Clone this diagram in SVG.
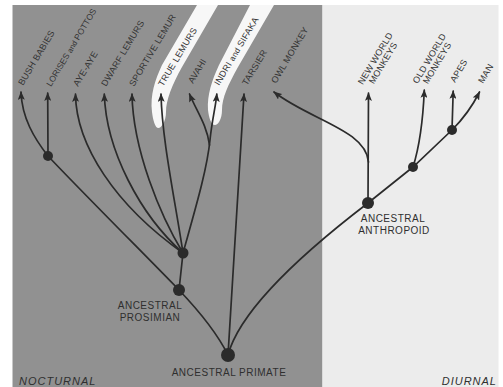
<svg xmlns="http://www.w3.org/2000/svg" width="503" height="387" viewBox="0 0 503 387">
<style>
.ln{fill:none;stroke:#2b2b2b;stroke-width:1.7;stroke-linecap:round}
.arr{marker-end:url(#ah)}
.nd{fill:#2b2b2b}
.lb{font-family:"Liberation Sans",Arial,sans-serif;font-size:9px;fill:#333;letter-spacing:0.2px}
.lc{font-size:8px}
.an{font-family:"Liberation Sans",Arial,sans-serif;font-size:10px;fill:#2f2f2f;letter-spacing:0.5px;text-anchor:middle}
.zone{font-family:"Liberation Sans",Arial,sans-serif;font-size:11px;font-style:italic;fill:#2f2f2f;letter-spacing:1px}
</style>
<defs>
<marker id="ah" viewBox="0 0 10 8" refX="9" refY="4" markerWidth="9" markerHeight="7" markerUnits="userSpaceOnUse" orient="auto">
<path d="M0,0 L10,4 L0,8 L2,4 Z" fill="#2b2b2b"/>
</marker>
</defs>
<rect x="0" y="0" width="503" height="387" fill="#ffffff"/>
<rect x="12.5" y="5" width="310" height="382" fill="#919191"/>
<rect x="322.5" y="5" width="176" height="382" fill="#ececec"/>
<path d="M152,112 C150,95 155,80 162,65 L197,5 L218,5 L182,67 C172,85 166,100 166,112 C166,122 161,128 158.5,128 C155,128 153,120 152,112 Z" fill="#f7f7f7"/>
<path d="M208,110 C207,95 212,80 219,65 L250,5 L274,5 L238,67 C228,85 222,98 222,110 C222,119 218,125 215,125 C211,125 209,118 208,110 Z" fill="#f7f7f7"/>
<g id="connectors">
<path class="ln arr" d="M48,156 C34,138 22,118 21,92"/>
<path class="ln arr" d="M48,156 L47.7,93"/>
<path class="ln" d="M48,156 C80,190 150,260 179,290 C200,312 218,335 228,355"/>
<path class="ln" d="M179,290 L183,253"/>
<path class="ln arr" d="M183,253 C115,205 76,145 75.5,94"/>
<path class="ln arr" d="M183,253 C140,215 106,150 104.3,94"/>
<path class="ln arr" d="M183,253 C160,215 133,150 132,94"/>
<path class="ln arr" d="M183,253 C175,200 162,140 161,94"/>
<path class="ln arr" d="M183,253 C195,210 207,170 210,140 C212,120 216,105 216.8,94"/>
<path class="ln arr" d="M209.5,145 C207,125 196,110 189.5,94"/>
<path class="ln arr" d="M228,355 L244,94"/>
<path class="ln" d="M228,355 C240,310 300,255 368,203"/>
<path class="ln" d="M368,203 L413,167 L452,130"/>
<path class="ln arr" d="M452,130 C462,120 472,107 479.5,92"/>
<path class="ln arr" d="M368,203 L368.5,93"/>
<path class="ln arr" d="M368.5,162 C366,130 310,120 274,92"/>
<path class="ln arr" d="M413,167 C420,145 423,120 424.3,90"/>
<path class="ln arr" d="M452,130 L453.2,91"/>
</g>
<g id="ancestral-primate"><circle class="nd" cx="228" cy="355" r="7"/><text class="an" x="229" y="375.5">ANCESTRAL PRIMATE</text></g>
<g id="ancestral-prosimian"><circle class="nd" cx="179" cy="290" r="6"/><text class="an" x="150" y="308.5">ANCESTRAL</text><text class="an" x="150" y="321">PROSIMIAN</text></g>
<g id="prosimian-split"><circle class="nd" cx="183" cy="253" r="5.5"/></g>
<g id="lorisoid-split"><circle class="nd" cx="48" cy="156" r="5"/></g>
<g id="ancestral-anthropoid"><circle class="nd" cx="368" cy="203" r="6"/><text class="an" x="393" y="222.3">ANCESTRAL</text><text class="an" x="394" y="233.5">ANTHROPOID</text></g>
<g id="catarrhine-split"><circle class="nd" cx="413" cy="167" r="5"/></g>
<g id="hominoid-split"><circle class="nd" cx="452" cy="130" r="5"/></g>
<g id="bush-babies"><text class="lb" transform="translate(23,86) rotate(-59)">BUSH BABIES</text></g>
<g id="lorises"><text class="lb" style="font-size:8.5px;letter-spacing:0" transform="translate(51,87) rotate(-59)">LORISES <tspan class="lc" style="font-size:7.5px">and</tspan> POTTOS</text></g>
<g id="aye-aye"><text class="lb" transform="translate(78,87) rotate(-59)">AYE-AYE</text></g>
<g id="dwarf-lemurs"><text class="lb" transform="translate(106,87) rotate(-59)">DWARF LEMURS</text></g>
<g id="sportive-lemur"><text class="lb" transform="translate(134,87) rotate(-59)">SPORTIVE LEMUR</text></g>
<g id="true-lemurs"><text class="lb" transform="translate(163,87) rotate(-59)">TRUE LEMURS</text></g>
<g id="avahi"><text class="lb" transform="translate(193,84) rotate(-59)">AVAHI</text></g>
<g id="indri"><text class="lb" transform="translate(219,86) rotate(-59)">INDRI <tspan class="lc">and</tspan> SIFAKA</text></g>
<g id="tarsier"><text class="lb" transform="translate(247,86) rotate(-59)">TARSIER</text></g>
<g id="owl-monkey"><text class="lb" transform="translate(276,84) rotate(-59)">OWL MONKEY</text></g>
<g id="new-world-monkeys" transform="translate(378,60) rotate(-59)"><text class="lb" text-anchor="middle" x="0" y="0">NEW WORLD</text><text class="lb" text-anchor="middle" x="0" y="9">MONKEYS</text></g>
<g id="old-world-monkeys" transform="translate(432,60) rotate(-59)"><text class="lb" text-anchor="middle" x="0" y="0">OLD WORLD</text><text class="lb" text-anchor="middle" x="0" y="9">MONKEYS</text></g>
<g id="apes"><text class="lb" transform="translate(455,83) rotate(-59)">APES</text></g>
<g id="man"><text class="lb" transform="translate(483,84) rotate(-59)">MAN</text></g>
<text class="zone" x="19" y="385">NOCTURNAL</text>
<text class="zone" x="497" y="385" text-anchor="end">DIURNAL</text>
</svg>
